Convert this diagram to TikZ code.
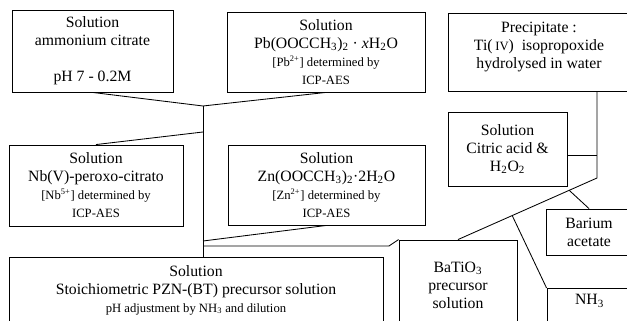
\documentclass[tikz,border=0pt]{standalone}
\usepackage{fontspec}
\setmainfont{Liberation Serif}
\usepackage{tikz}
\usetikzlibrary{positioning,calc}

\newcommand{\mainsz}{\fontsize{11.2}{12.8}\selectfont}
\newcommand{\smallsz}{\fontsize{9}{11.4}\selectfont}

\begin{document}
\begin{tikzpicture}[
    x=0.025cm, y=-0.025cm,
    box/.style={rectangle, draw, line width=0.6pt, align=center, font=\mainsz, inner sep=0pt},
    link/.style={line width=0.6pt}
]
\useasboundingbox (0,0) rectangle (627,321);
\clip (0,0) rectangle (627,321);

% Starting solutions
\node[box, minimum width=4.025cm, minimum height=2.05cm] (amm) at (92.5,51)
    {Solution\\ ammonium citrate\\[0.45cm] pH 7 - 0.2M};
\node[box, minimum width=4.95cm, minimum height=2.0cm] (pb) at (326,52)
    {Solution\\ Pb(OOCCH\textsubscript{3})\textsubscript{2} · \textit{x}H\textsubscript{2}O\\
     \smallsz [Pb\textsuperscript{2+}] determined by\\ \smallsz ICP-AES};
\node[box, minimum width=4.55cm, minimum height=1.95cm] (prec) at (539,52)
    {Precipitate :\\ Ti(\,{\smallsz IV})\ \ isopropoxide\\ hydrolysed in water\rule[-0.35cm]{0pt}{0pt}};

\node[box, minimum width=2.975cm, minimum height=1.85cm] (cit) at (507.5,149)
    {Solution\\ Citric acid \&\\ H\textsubscript{2}O\textsubscript{2}};

\node[box, minimum width=4.35cm, minimum height=2.025cm] (nb) at (96,185.5)
    {Solution\\ Nb(V)-peroxo-citrato\\
     \smallsz [Nb\textsuperscript{5+}] determined by\\ \smallsz ICP-AES};
\node[box, minimum width=4.925cm, minimum height=2.0cm] (zn) at (326.5,185)
    {Solution\\ Zn(OOCCH\textsubscript{3})\textsubscript{2}·2H\textsubscript{2}O\\
     \smallsz [Zn\textsuperscript{2+}] determined by\\ \smallsz ICP-AES};

\node[box, minimum width=2.15cm, minimum height=1.15cm] (ba) at (589,232)
    {Barium\\ acetate};

% Precursor solutions
\node[box, minimum width=9.35cm, minimum height=1.65cm] (pzn) at (196,290)
    {Solution\\ Stoichiometric PZN-(BT) precursor solution\\
     \smallsz pH adjustment by NH\textsubscript{3} and dilution};
\node[box, minimum width=2.95cm, minimum height=2.25cm] (bt) at (458,285)
    {BaTiO\textsubscript{3}\\ precursor\\ solution};
\node[box, minimum width=2.125cm, anchor=north, inner ysep=0.15cm, text depth=1.2cm] (nh) at (589.5,288)
    {NH\textsubscript{3}};

% PZN side
\coordinate (j1) at (203,106);
\coordinate (j2) at (203,132);
\coordinate (j3) at (203,241);
\coordinate (j4) at (203,246);
\coordinate (k1) at (389,246);

\draw[link] (amm.south) -- (j1) -- (pb.south);
\draw[link] (j1) -- (j1 |- pzn.north);
\draw[link] (nb.north) -- (j2);
\draw[link] (zn.south) -- (j3);
\draw[link] (j4) -- (k1) -- (bt.north west);

% BT side
\coordinate (r0) at (597,155);
\coordinate (r1) at (597,178);

\draw[link] (prec.south -| r1) -- (r1) -- (bt.north);
\draw[link] (cit.east |- r0) -- (r0);
\draw[link] ($(r1)!0.2!(bt.north)$) -- (ba.north);
\draw[link] ($(r1)!0.61!(bt.north)$) -- (nh.north west);
\end{tikzpicture}
\end{document}
